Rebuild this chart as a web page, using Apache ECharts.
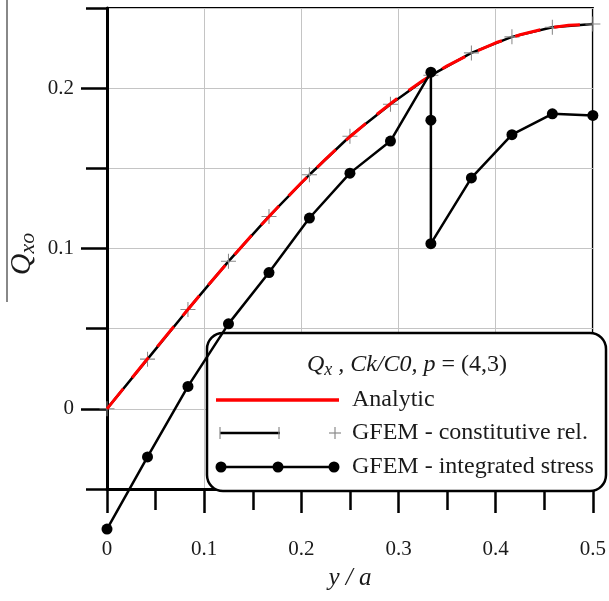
<!DOCTYPE html>
<html><head><meta charset="utf-8">
<script src="https://cdn.jsdelivr.net/npm/echarts@6/dist/echarts.min.js"></script>
<style>html,body{margin:0;padding:0;background:#fff}#c{width:609px;height:601px}</style>
</head><body><div id="c"></div>
<script>
// ---- data ----
const analyticX = [0, 0.025, 0.05, 0.075, 0.1, 0.125, 0.15, 0.175, 0.2, 0.225, 0.25, 0.275, 0.3, 0.325, 0.35, 0.375, 0.4, 0.425, 0.45, 0.475, 0.5];
const analyticY = [0, 0.0188, 0.0375, 0.0559, 0.0742, 0.0918, 0.109, 0.1253, 0.141, 0.1558, 0.1697, 0.1824, 0.1942, 0.2048, 0.2139, 0.2217, 0.2283, 0.2333, 0.237, 0.2393, 0.240];
const constX = [0, 0.0417, 0.0833, 0.125, 0.1667, 0.2083, 0.25, 0.2917, 0.3333, 0.375, 0.4167, 0.4583, 0.5];
const constY = [0, 0.031, 0.062, 0.092, 0.120, 0.146, 0.170, 0.190, 0.208, 0.222, 0.232, 0.238, 0.240];
const stressX = [0, 0.0417, 0.0833, 0.125, 0.1667, 0.2083, 0.25, 0.2917, 0.3333, 0.3333, 0.3333, 0.375, 0.4167, 0.4583, 0.5];
const stressY = [-0.075, -0.030, 0.014, 0.053, 0.085, 0.119, 0.147, 0.167, 0.210, 0.180, 0.103, 0.144, 0.171, 0.184, 0.183];
const yMajorTicks = [0, 0.1, 0.2];
const xLabels = ['0', '0.1', '0.2', '0.3', '0.4', '0.5'];
const legendTitle = '{q|Q}{sub|x}{i| , Ck/C0, p }{n|= (4,3)}';
const legendNames = ['Analytic', 'GFEM - constitutive rel.', 'GFEM - integrated stress'];

const pair = (xs, ys) => xs.map((x, i) => [x, ys[i]]);
const SERIF = '"Liberation Serif", "DejaVu Serif", serif';
const plusPath = 'path://M-0.7,-10L0.7,-10L0.7,-0.7L10,-0.7L10,0.7L0.7,0.7L0.7,10L-0.7,10L-0.7,0.7L-10,0.7L-10,-0.7L-0.7,-0.7Z';

const chart = echarts.init(document.getElementById('c'));
const lblStyle = {fontFamily: SERIF, fontSize: 21, color: '#1a1a1a'};
chart.setOption({
  animation: false,
  backgroundColor: '#fff',
  grid: {left: 107, right: 16, top: 8, bottom: 112, show: true, borderColor: '#000', borderWidth: 2, backgroundColor: 'transparent'},
  xAxis: [
    {type: 'value', min: 0, max: 0.5, interval: 0.1, position: 'bottom',
     axisLine: {show: true, onZero: false, lineStyle: {color: '#000', width: 3}},
     axisTick: {show: true, inside: false, length: 24, lineStyle: {color: '#000', width: 2.5}},
     axisLabel: Object.assign({margin: 50, formatter: (v) => xLabels[Math.round(v * 10)]}, lblStyle),
     splitLine: {show: true, lineStyle: {color: '#c4c4c4', width: 1}},
     name: 'y / a', nameLocation: 'middle', nameGap: 77,
     nameTextStyle: {fontFamily: SERIF, fontSize: 25, fontStyle: 'italic', color: '#1a1a1a'}},
    {type: 'value', min: 0, max: 0.5, interval: 0.05, position: 'bottom', offset: 0,
     axisLine: {show: false, onZero: false},
     axisTick: {show: true, inside: false, length: 21, lineStyle: {color: '#000', width: 2.5}},
     axisLabel: {show: false}, splitLine: {show: false}}
  ],
  yAxis: [
    {type: 'value', min: -0.05, max: 0.25, interval: 0.05, position: 'left',
     axisLine: {show: true, onZero: false, lineStyle: {color: '#000', width: 3}},
     axisTick: {show: true, inside: false, length: 21, lineStyle: {color: '#000', width: 2.5}},
     axisLabel: {show: false},
     splitLine: {show: true, lineStyle: {color: '#c4c4c4', width: 1}}},
    {type: 'value', min: -0.05, max: 0.25, position: 'left', offset: 0,
     axisLine: {show: false, onZero: false},
     axisTick: {show: true, inside: false, length: 26, customValues: yMajorTicks, lineStyle: {color: '#000', width: 2.5}},
     axisLabel: Object.assign({margin: 33, customValues: yMajorTicks, formatter: (v) => (Math.abs(v) < 1e-9 ? '0' : String(+v.toFixed(1)))}, lblStyle),
     splitLine: {show: false}}
  ],
  series: [
    {name: legendNames[1], type: 'line', data: pair(constX, constY), xAxisIndex: 0, yAxisIndex: 0, z: 3,
     lineStyle: {color: '#000', width: 2.5}, symbol: plusPath, symbolSize: 15, showSymbol: true,
     itemStyle: {color: '#8a8a8a'}},
    {name: legendNames[0], type: 'line', data: pair(analyticX, analyticY), xAxisIndex: 0, yAxisIndex: 0, z: 4,
     lineStyle: {color: '#ff0000', width: 3, type: [26, 14]}, symbol: 'none', smooth: false},
    {name: legendNames[2], type: 'line', data: pair(stressX, stressY), xAxisIndex: 0, yAxisIndex: 0, z: 5, clip: false,
     lineStyle: {color: '#000', width: 2.5}, symbol: 'circle', symbolSize: 11, showSymbol: true,
     itemStyle: {color: '#000'}}
  ],
  graphic: [
    {type: 'line', z: 1, shape: {x1: 7, y1: 0, x2: 7, y2: 302}, style: {stroke: '#888', lineWidth: 2}},
    {type: 'text', z: 1, x: 22, y: 254, rotation: Math.PI / 2, style: {
      text: '{q|Q}{s|xo}', align: 'center', verticalAlign: 'middle',
      rich: {q: {fontFamily: SERIF, fontSize: 30, fontStyle: 'italic', fill: '#1a1a1a'},
             s: {fontFamily: SERIF, fontSize: 22, fontStyle: 'italic', fill: '#1a1a1a', padding: [12, 0, 0, 0]}}}},
    {type: 'rect', z: 1, shape: {x: 207, y: 333, width: 399, height: 158, r: 16},
     style: {fill: '#fff', stroke: '#000', lineWidth: 2.5}},
    {type: 'text', z: 1, x: 407, y: 365, style: {
      text: legendTitle, align: 'center', verticalAlign: 'middle',
      rich: {q: {fontFamily: SERIF, fontSize: 24, fontStyle: 'italic', fill: '#1a1a1a'},
             sub: {fontFamily: SERIF, fontSize: 18, fontStyle: 'italic', fill: '#1a1a1a', padding: [10, 0, 0, 0]},
             i: {fontFamily: SERIF, fontSize: 24, fontStyle: 'italic', fill: '#1a1a1a'},
             n: {fontFamily: SERIF, fontSize: 24, fill: '#1a1a1a'}}}},
    {type: 'line', z: 1, shape: {x1: 216, y1: 400, x2: 339, y2: 400}, style: {stroke: '#ff0000', lineWidth: 3.5}},
    {type: 'text', z: 1, x: 352, y: 400, style: {text: legendNames[0], font: '24px ' + SERIF, fill: '#1a1a1a', verticalAlign: 'middle'}},
    {type: 'line', z: 1, shape: {x1: 220, y1: 433, x2: 280, y2: 433}, style: {stroke: '#000', lineWidth: 2.5}},
    {type: 'line', z: 1, shape: {x1: 220, y1: 427, x2: 220, y2: 439}, style: {stroke: '#8a8a8a', lineWidth: 1.2}},
    {type: 'line', z: 1, shape: {x1: 279, y1: 427, x2: 279, y2: 439}, style: {stroke: '#8a8a8a', lineWidth: 1.2}},
    {type: 'line', z: 1, shape: {x1: 329, y1: 433, x2: 341, y2: 433}, style: {stroke: '#8a8a8a', lineWidth: 1.2}},
    {type: 'line', z: 1, shape: {x1: 335, y1: 427, x2: 335, y2: 439}, style: {stroke: '#8a8a8a', lineWidth: 1.2}},
    {type: 'text', z: 1, x: 352, y: 433, style: {text: legendNames[1], font: '24px ' + SERIF, fill: '#1a1a1a', verticalAlign: 'middle'}},
    {type: 'line', z: 1, shape: {x1: 221, y1: 467, x2: 334, y2: 467}, style: {stroke: '#000', lineWidth: 2.5}},
    {type: 'circle', z: 1, shape: {cx: 221, cy: 467, r: 5.5}, style: {fill: '#000'}},
    {type: 'circle', z: 1, shape: {cx: 278, cy: 467, r: 5.5}, style: {fill: '#000'}},
    {type: 'circle', z: 1, shape: {cx: 334, cy: 467, r: 5.5}, style: {fill: '#000'}},
    {type: 'text', z: 1, x: 352, y: 467, style: {text: legendNames[2], font: '24px ' + SERIF, fill: '#1a1a1a', verticalAlign: 'middle'}}
  ]
});
</script></body></html>
